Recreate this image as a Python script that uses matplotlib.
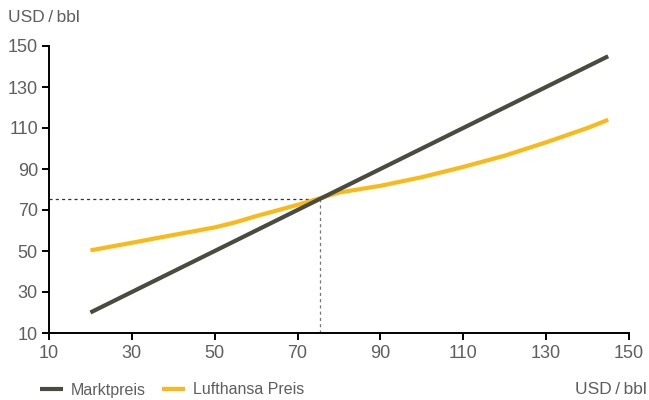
import matplotlib.pyplot as plt
import numpy as np

plt.rcParams['font.family'] = ['Liberation Sans', 'DejaVu Sans']

# Data
markt_x = [20, 145]
markt_y = [20, 145]

lh_x = [20, 30, 40, 50, 55, 60, 70, 75, 80, 90, 100, 110, 120, 130, 140, 145]
lh_y = [50.3, 54, 57.8, 61.5, 64, 67, 72.5, 75.5, 78.5, 81.8, 86, 91, 96.5, 103, 110, 114]

break_even = 75.5
x_ticks = [10, 30, 50, 70, 90, 110, 130, 150]
y_ticks = [10, 30, 50, 70, 90, 110, 130, 150]

dark = '#4a4b3f'
yellow = '#fbb917'
text_col = '#5e5e5e'
unit = 'USD\u2009/\u2009bbl'

fig = plt.figure(figsize=(6.49, 4.0), dpi=100)
ax = fig.add_axes([0.0755, 0.1675, 0.8935, 0.7175])

# dashed guide lines to the crossing point
ax.plot([10, break_even], [break_even, break_even], color='#333333', lw=0.9,
        ls=(0, (2.5, 2.5)), zorder=1)
ax.plot([break_even, break_even], [10, break_even], color='#777777', lw=0.9,
        ls=(0, (2.5, 2.5)), zorder=1)

ax.plot(lh_x, lh_y, color=yellow, lw=3, solid_capstyle='butt', label='Lufthansa Preis', zorder=2)
ax.plot(markt_x, markt_y, color=dark, lw=3, solid_capstyle='butt', label='Marktpreis', zorder=3)

ax.set_xlim(10, 150)
ax.set_ylim(10, 150)
ax.set_xticks(x_ticks)
ax.set_yticks(y_ticks)

for side in ['top', 'right']:
    ax.spines[side].set_visible(False)
for side in ['left', 'bottom']:
    ax.spines[side].set_linewidth(1.4)
    ax.spines[side].set_color('black')

ax.tick_params(axis='both', direction='out', length=5, width=1.4, color='black',
               labelsize=13, labelcolor=text_col)
ax.tick_params(axis='y', pad=3)
ax.tick_params(axis='x', pad=4)

fig.text(0.012, 0.955, unit, fontsize=12.5, color=text_col, ha='left', va='center')
fig.text(0.996, 0.025, unit, fontsize=12.5, color=text_col, ha='right', va='center')

handles, labels = ax.get_legend_handles_labels()
order = [1, 0]
fig.legend([handles[i] for i in order], [labels[i] for i in order],
           loc='center left', bbox_to_anchor=(0.062, 0.025), ncol=2, frameon=False,
           fontsize=11.5, labelcolor=text_col, handlelength=1.4, handletextpad=0.5,
           columnspacing=1.05, borderaxespad=0, borderpad=0)

fig.savefig('out.png', dpi=100)
